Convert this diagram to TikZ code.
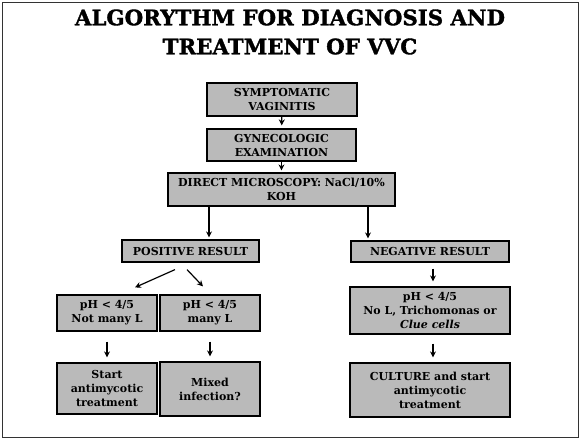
\documentclass[tikz,border=0pt]{standalone}
\usepackage{fontspec}
\setmainfont{DejaVu Serif}
\newfontfamily\heavyfont{DejaVu Serif}[UprightFont=* Bold, UprightFeatures={FakeBold=1.6}]
\usetikzlibrary{arrows.meta}
\begin{document}
\begin{tikzpicture}[x=1pt,y=-1pt,
  box/.style={draw=black, line width=1.2pt, fill=black!27, align=center, inner sep=1pt,
    font=\bfseries\fontsize{11}{14}\selectfont},
  arr/.style={line width=1.2pt, -{Stealth[length=6pt,width=6pt]}},
  frame/.style={draw=black!80, line width=0.8pt}]
\useasboundingbox (0,0) rectangle (580,439);
\draw[frame] (2,2) rectangle (578,437);
\node[font=\heavyfont\fontsize{21.3}{29}\selectfont, align=center] (title) at (290,32)
  {ALGORYTHM FOR DIAGNOSIS AND\\TREATMENT OF VVC};

\node[box, minimum width=150pt, minimum height=33pt] (b1) at (282,99.5) {SYMPTOMATIC\\VAGINITIS};
\node[box, minimum width=149pt, minimum height=32pt] (b2) at (281.5,145) {GYNECOLOGIC\\EXAMINATION};
\node[box, minimum width=227pt, minimum height=33pt] (b3) at (281.5,189.5) {DIRECT MICROSCOPY: NaCl/10\%\\KOH};
\node[box, minimum width=137pt, minimum height=22pt] (b4) at (190.5,251) {POSITIVE RESULT};
\node[box, minimum width=158pt, minimum height=21pt] (b9) at (430,251.5) {NEGATIVE RESULT};
\node[box, minimum width=100pt, minimum height=36pt] (b5) at (107,313) {pH < 4/5\\Not many L};
\node[box, minimum width=100pt, minimum height=36pt] (b6) at (210,313) {pH < 4/5\\many L};
\node[box, minimum width=160pt, minimum height=47pt] (b10) at (430,310.5) {pH < 4/5\\No L, Trichomonas or\\{\itshape Clue cells}};
\node[box, minimum width=100pt, minimum height=51pt] (b7) at (107,388.5) {Start\\antimycotic\\treatment};
\node[box, minimum width=100pt, minimum height=54pt] (b8) at (210,389) {Mixed\\infection?};
\node[box, minimum width=160pt, minimum height=54pt] (b11) at (430,390) {CULTURE and start\\antimycotic\\treatment};

\coordinate (xl) at (209,0);
\coordinate (xr) at (368,0);
\draw[arr, shorten >=3pt] (b1) -- (b2);
\draw[arr, shorten >=2pt] (b2) -- (b3);
\draw[arr, shorten >=2pt] (b3.south -| xl) -- (b4.north -| xl);
\draw[arr, shorten >=2pt] (b3.south -| xr) -- (b9.north -| xr);
\draw[arr] ([xshift=-15.5pt,yshift=-7pt]b4.south) -- ([xshift=28pt,yshift=7pt]b5.north);
\draw[arr] ([xshift=-3.5pt,yshift=-7pt]b4.south) -- ([xshift=-7pt,yshift=8pt]b6.north);
\draw[arr, shorten <=10pt, shorten >=5pt] (b5) -- (b7);
\draw[arr, shorten <=10pt, shorten >=5pt] (b6) -- (b8);
\draw[arr, shorten <=6pt, shorten >=5pt] ([xshift=3pt]b9.south) -- ([xshift=3pt]b10.north);
\draw[arr, shorten <=9pt, shorten >=5pt] ([xshift=3pt]b10.south) -- ([xshift=3pt]b11.north);
\end{tikzpicture}
\end{document}
